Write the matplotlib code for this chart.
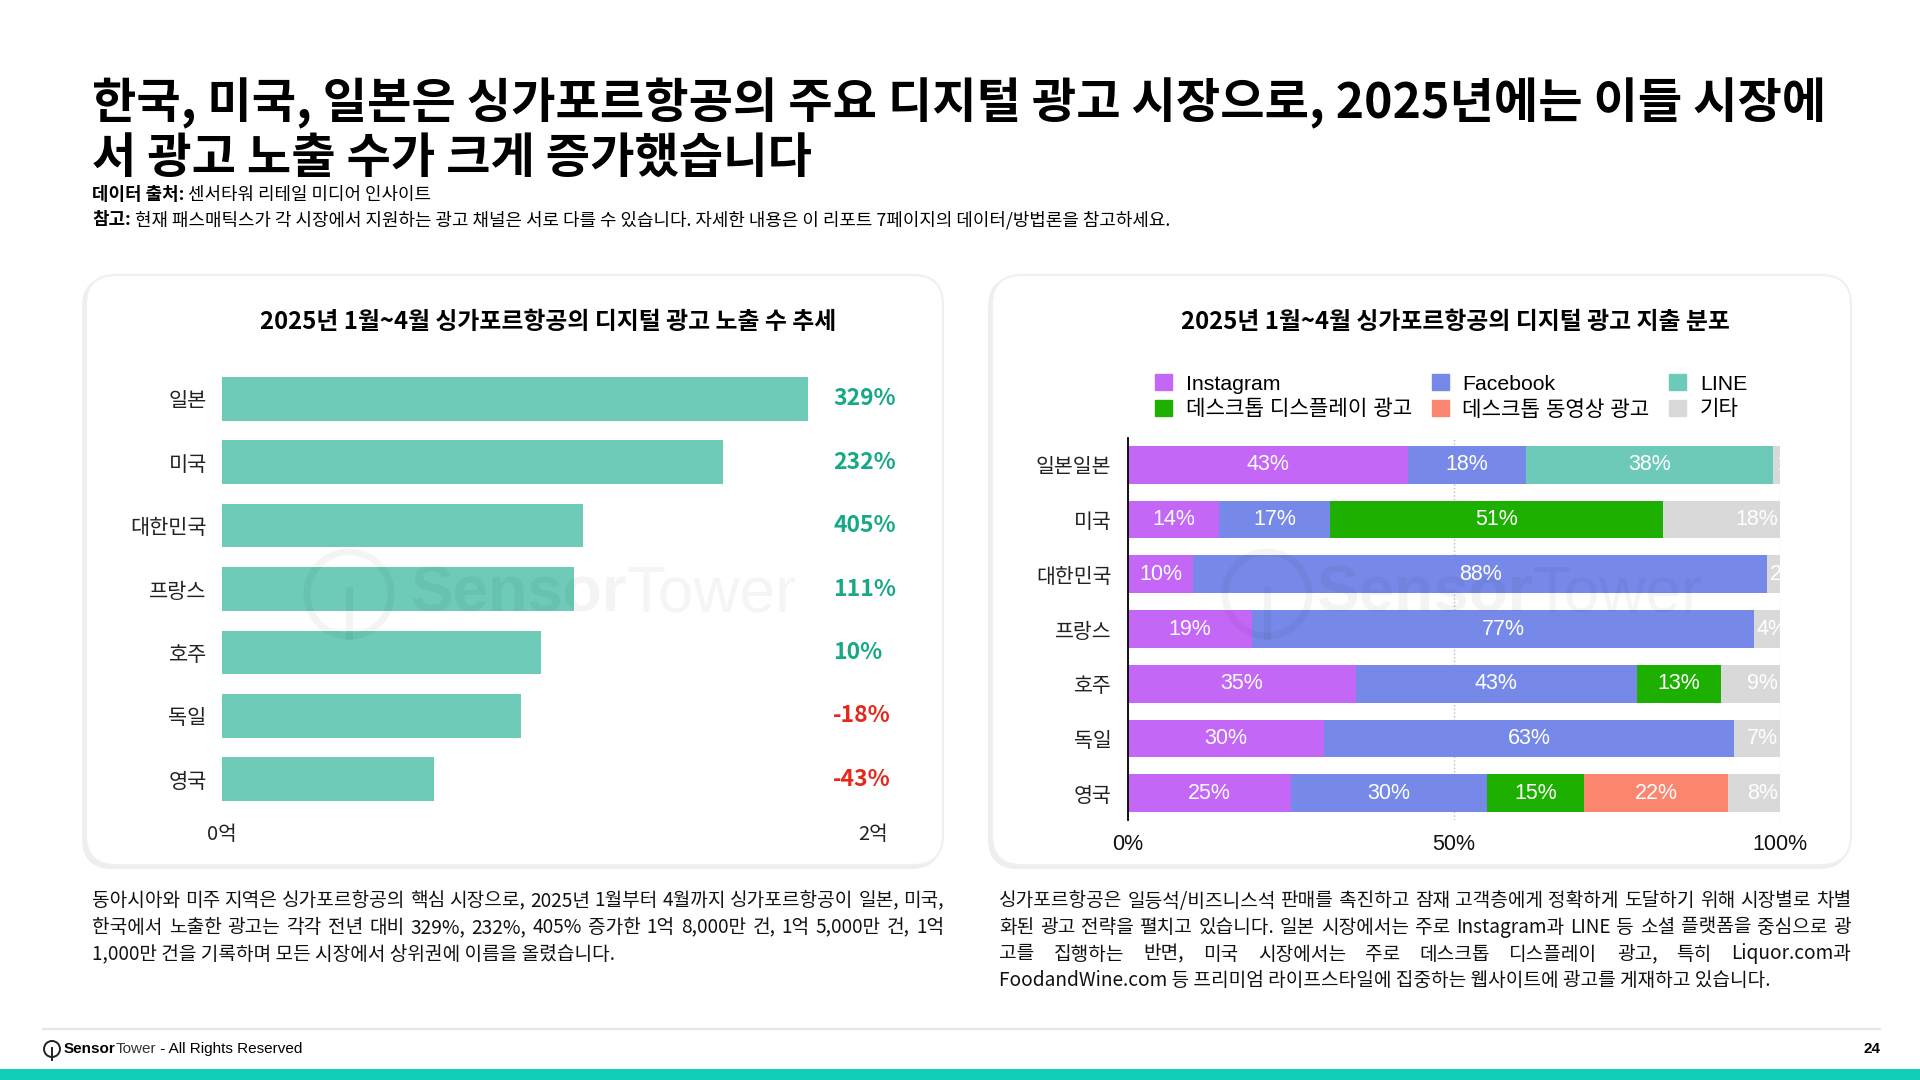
import numpy as np
import matplotlib
matplotlib.use('Agg')
import matplotlib.pyplot as plt
from matplotlib.patches import FancyBboxPatch, Circle, Rectangle, Patch

plt.rcParams['font.family'] = ['Noto Sans CJK KR', 'DejaVu Sans']
LATIN = ['Liberation Sans', 'Noto Sans CJK KR', 'DejaVu Sans']

# ---- data: impressions (left chart) ----
countries = ['일본', '미국', '대한민국', '프랑스', '호주', '독일', '영국']
impressions = [1.80, 1.54, 1.11, 1.08, 0.98, 0.92, 0.65]   # 억 건
yoy_growth = [329, 232, 405, 111, 10, -18, -43]             # %
imp_ticks = [0, 2]
imp_tick_labels = ['0억', '2억']

# ---- data: spend share (right chart) ----
spend_countries = ['일본일본', '미국', '대한민국', '프랑스', '호주', '독일', '영국']
channels = ['Instagram', 'Facebook', 'LINE', '데스크톱 디스플레이 광고', '데스크톱 동영상 광고', '기타']
instagram = [43, 14, 10, 19, 35, 30, 25]
facebook = [18, 17, 88, 77, 43, 63, 30]
line_app = [38, 0, 0, 0, 0, 0, 0]
desktop_display = [0, 51, 0, 0, 13, 0, 15]
desktop_video = [0, 0, 0, 0, 0, 0, 22]
other = [1, 18, 2, 4, 9, 7, 8]
share_ticks = [0, 50, 100]

channel_colors = ['#C466F6', '#7689E8', '#6DCAB8', '#1EB000', '#FA8670', '#D9D9D9']
bar_teal = '#6DCBB8'
up_green = '#17A885'
down_red = '#E5281B'

title_l1 = '한국, 미국, 일본은 싱가포르항공의 주요 디지털 광고 시장으로, 2025년에는 이들 시장에'
title_l2 = '서 광고 노출 수가 크게 증가했습니다'
left_title = '2025년 1월~4월 싱가포르항공의 디지털 광고 노출 수 추세'
right_title = '2025년 1월~4월 싱가포르항공의 디지털 광고 지출 분포'
left_para = [
    '동아시아와 미주 지역은 싱가포르항공의 핵심 시장으로, 2025년 1월부터 4월까지 싱가포르항공이 일본, 미국,',
    '한국에서 노출한 광고는 각각 전년 대비 329%, 232%, 405% 증가한 1억 8,000만 건, 1억 5,000만 건, 1억',
    '1,000만 건을 기록하며 모든 시장에서 상위권에 이름을 올렸습니다.',
]
right_para = [
    '싱가포르항공은 일등석/비즈니스석 판매를 촉진하고 잠재 고객층에게 정확하게 도달하기 위해 시장별로 차별',
    '화된 광고 전략을 펼치고 있습니다. 일본 시장에서는 주로 Instagram과 LINE 등 소셜 플랫폼을 중심으로 광',
    '고를 집행하는 반면, 미국 시장에서는 주로 데스크톱 디스플레이 광고, 특히 Liquor.com과',
    'FoodandWine.com 등 프리미엄 라이프스타일에 집중하는 웹사이트에 광고를 게재하고 있습니다.',
]

W, H = 1920, 1080
fig = plt.figure(figsize=(W / 100, H / 100), dpi=100)
fig.patch.set_facecolor('white')


def px_box(x0, y0, x1, y1):
    return [x0 / W, 1 - y1 / H, (x1 - x0) / W, (y1 - y0) / H]


bg = fig.add_axes([0, 0, 1, 1], zorder=0)
bg.set_xlim(0, W)
bg.set_ylim(H, 0)
bg.axis('off')

# panels
for x0, x1 in [(86, 943), (992, 1851)]:
    bg.add_patch(FancyBboxPatch((x0 - 4, 277), x1 - x0 + 2, 592,
                                boxstyle='round,pad=0,rounding_size=30',
                                fc='#eeeeee', ec='none'))
    bg.add_patch(FancyBboxPatch((x0, 275), x1 - x0, 590,
                                boxstyle='round,pad=0,rounding_size=30',
                                fc='white', ec='#f0f0f0', lw=1.5))

# headline
bg.text(92, 103, title_l1, fontsize=34.7, fontweight='bold', va='center')
bg.text(92, 158, title_l2, fontsize=34.7, fontweight='bold', va='center')
t = bg.text(92, 195, '데이터 출처:', fontsize=12.9, fontweight='bold', va='center')
bg.annotate(' 센서타워 리테일 미디어 인사이트', xy=(1, 0.5), xycoords=t, va='center', fontsize=12.9)
t = bg.text(92, 220, '참고:', fontsize=12.9, fontweight='bold', va='center')
bg.annotate(' 현재 패스매틱스가 각 시장에서 지원하는 광고 채널은 서로 다를 수 있습니다. '
            '자세한 내용은 이 리포트 7페이지의 데이터/방법론을 참고하세요.',
            xy=(1, 0.5), xycoords=t, va='center', fontsize=12.9)

bg.text(548, 322, left_title, fontsize=17.2, fontweight='bold', ha='center', va='center')
bg.text(1455, 322, right_title, fontsize=17.2, fontweight='bold', ha='center', va='center')

# ---- left chart ----
ax1 = fig.add_axes(px_box(222, 367, 873, 811), zorder=1)
ax1.patch.set_visible(False)
y = np.arange(len(countries))
ax1.barh(y, impressions, height=0.69, color=bar_teal)
ax1.set_ylim(len(countries) - 0.5, -0.5)
ax1.set_xlim(0, 2)
ax1.set_yticks(y, countries)
ax1.set_xticks(imp_ticks, imp_tick_labels)
ax1.tick_params(axis='y', length=0, labelsize=15, pad=11, labelcolor='#222222')
ax1.tick_params(axis='x', length=0, labelsize=14.5, pad=9, labelcolor='#222222')
for s in ax1.spines.values():
    s.set_visible(False)
for i, g in enumerate(yoy_growth):
    ax1.text(0.939, i, f'{g}%', transform=ax1.get_yaxis_transform(),
             color=up_green if g >= 0 else down_red, fontsize=16.5,
             fontweight='bold', ha='left', va='center')

# ---- right chart ----
ax2 = fig.add_axes(px_box(1128, 437.6, 1780, 820.4), zorder=1)
ax2.patch.set_visible(False)
series = [instagram, facebook, line_app, desktop_display, desktop_video, other]
left = np.zeros(len(spend_countries))
for name, vals, col in zip(channels, series, channel_colors):
    vals = np.array(vals, dtype=float)
    ax2.barh(y, vals, left=left, height=0.69, color=col, label=name, zorder=2)
    for i, v in enumerate(vals):
        if v <= 0:
            continue
        if name == '기타' and v >= 7:
            tx, ha = 99.7, 'right'
        elif name == '기타':
            tx, ha = left[i] + 0.4, 'left'
        else:
            tx, ha = left[i] + v / 2, 'center'
        ax2.text(tx, i, f'{int(v)}%', ha=ha, va='center', color='white',
                 fontsize=15.5, family=LATIN, zorder=3, clip_on=True)
    left += vals
ax2.set_xlim(0, 100)
ax2.set_ylim(len(spend_countries) - 0.5, -0.5)
ax2.set_yticks(y, spend_countries)
ax2.set_xticks(share_ticks, [f'{v}%' for v in share_ticks])
for lab in ax2.get_xticklabels():
    lab.set_family(LATIN)
ax2.tick_params(axis='y', length=0, labelsize=14.8, pad=12, labelcolor='#222222')
ax2.tick_params(axis='x', length=0, labelsize=15.5, pad=10, labelcolor='#111111')
ax2.set_axisbelow(True)
ax2.grid(axis='x', linestyle=':', color='#bbbbbb', lw=1)
for k in ['top', 'right', 'bottom']:
    ax2.spines[k].set_visible(False)
ax2.spines['left'].set_color('black')
ax2.spines['left'].set_linewidth(1.3)
ax2.spines['left'].set_zorder(4)

order = [0, 3, 1, 4, 2, 5]
handles = [Patch(color=channel_colors[k], label=channels[k]) for k in order]
ax2.legend(handles=handles, ncol=3, loc='upper left',
           bbox_to_anchor=(1155 / W, 1 - 374 / H), bbox_transform=fig.transFigure,
           frameon=False, borderpad=0, borderaxespad=0, handlelength=0.8,
           handleheight=0.8, handletextpad=0.64, columnspacing=0.93,
           labelspacing=0.3, prop={'family': LATIN, 'size': 15.3})

# ---- paragraphs ----
renderer = fig.canvas.get_renderer()
PARA_SIZE = 13.75


def para_line(x0, x1, yy, text, justify):
    if not justify:
        bg.text(x0, yy, text, fontsize=PARA_SIZE, va='center', color='#111111')
        return
    words = text.split(' ')
    size = PARA_SIZE
    arts = [bg.text(0, yy, w, fontsize=size, va='center', color='#111111') for w in words]
    while True:
        widths = [a.get_window_extent(renderer).width for a in arts]
        gap = (x1 - x0 - sum(widths)) / (len(words) - 1)
        if gap >= 4 or size < 10:
            break
        size -= 0.1
        for a in arts:
            a.set_fontsize(size)
    xx = x0
    for a, w in zip(arts, widths):
        a.set_x(xx)
        xx += w + gap


for k, line in enumerate(left_para):
    para_line(92, 944, 901 + k * 26.5, line, k < len(left_para) - 1)
for k, line in enumerate(right_para):
    para_line(999, 1851, 901 + k * 26.5, line, k < len(right_para) - 1)

# ---- footer ----
bg.plot([43, 1880], [1029, 1029], color='#e6e6e6', lw=1.5)
bg.add_patch(Circle((52, 1049), 8, fc='none', ec='#222222', lw=1.4))
bg.plot([52, 52], [1048, 1060], color='#222222', lw=1.4)
t = bg.text(64, 1049, 'Sensor', fontsize=11, fontweight='bold', va='center', family=LATIN)
t = bg.annotate('Tower', xy=(1, 0.5), xycoords=t, va='center', fontsize=11, family=LATIN, color='#333333')
bg.annotate(' - All Rights Reserved', xy=(1, 0.5), xycoords=t, va='center', fontsize=11, family=LATIN)
bg.text(1880, 1049, '24', fontsize=11, fontweight='bold', ha='right', va='center', family=LATIN)
bg.add_patch(Rectangle((0, 1069), W, 11, fc='#10CFB6', ec='none'))

# ---- watermark ----
fg = fig.add_axes([0, 0, 1, 1], zorder=5)
fg.set_xlim(0, W)
fg.set_ylim(H, 0)
fg.axis('off')
for cx, tx in [(349, 410), (1267, 1316)]:
    fg.add_patch(Circle((cx, 594), 42, fc='none', ec='black', lw=5, alpha=0.045))
    fg.plot([cx, cx], [590, 636], color='black', lw=5, alpha=0.045)
    t = fg.text(tx, 594, 'Sensor', fontsize=46, fontweight='bold', va='center',
                family=LATIN, color='black', alpha=0.045)
    fg.annotate('Tower', xy=(1, 0.5), xycoords=t, va='center', fontsize=46,
                family=LATIN, color='black', alpha=0.04)

fig.savefig('out.png', dpi=100, facecolor='white')
